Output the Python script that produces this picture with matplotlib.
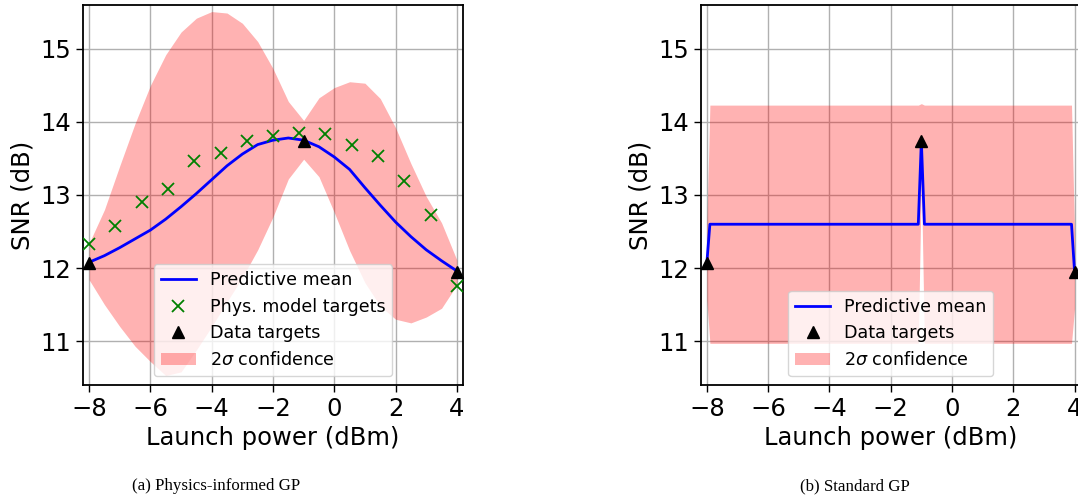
import matplotlib
matplotlib.use("Agg")
import matplotlib.pyplot as plt
import numpy as np

# --- (a) physics-informed GP ---
pi_x = [-8, -7.5, -7, -6.5, -6, -5.5, -5, -4.5, -4, -3.5, -3, -2.5, -2,
        -1.5, -1, -0.5, 0, 0.5, 1, 1.5, 2, 2.5, 3, 3.5, 4]
pi_mean = [12.08, 12.17, 12.28, 12.40, 12.52, 12.67, 12.84, 13.02, 13.21, 13.40,
           13.56, 13.69, 13.75, 13.78, 13.75, 13.66, 13.52, 13.35, 13.10, 12.86,
           12.63, 12.43, 12.25, 12.10, 11.96]
pi_upper = [12.34, 12.80, 13.40, 13.98, 14.50, 14.92, 15.23, 15.42, 15.51, 15.49,
            15.35, 15.10, 14.73, 14.28, 14.02, 14.33, 14.47, 14.55, 14.53, 14.32,
            13.92, 13.43, 12.98, 12.62, 12.11]
pi_lower = [11.84, 11.50, 11.20, 10.93, 10.72, 10.53, 10.58, 10.88, 11.20, 11.54,
            11.87, 12.25, 12.70, 13.22, 13.49, 13.25, 12.76, 12.24, 11.80, 11.48,
            11.30, 11.25, 11.33, 11.45, 11.77]

phys_x = [-8, -7.14, -6.29, -5.43, -4.57, -3.71, -2.86, -2, -1.14, -0.29,
          0.57, 1.43, 2.29, 3.14, 4]
phys_y = [12.33, 12.58, 12.90, 13.08, 13.46, 13.58, 13.74, 13.81, 13.85, 13.84,
          13.68, 13.54, 13.19, 12.73, 11.76]

data_x = [-8, -1, 4]
data_y = [12.07, 13.74, 11.95]

# --- (b) standard GP ---
std_x = [-8, -7.9, -1.1, -1, -0.9, 3.9, 4]
std_mean = [12.07, 12.6, 12.6, 13.74, 12.6, 12.6, 11.95]
std_upper = [12.57, 14.23, 14.23, 14.25, 14.23, 14.23, 12.45]
std_lower = [11.57, 10.97, 10.97, 13.24, 10.97, 10.97, 11.45]

W, H = 1078, 499
fig = plt.figure(figsize=(W / 100, H / 100), dpi=100)

ax_w = 380 / W
ax_h = 380 / H
ax_b = 1 - 385 / H
ax1 = fig.add_axes([83 / W, ax_b, ax_w, ax_h])
ax2 = fig.add_axes([700.7 / W, ax_b, ax_w, ax_h])


def style(ax):
    ax.set_xlim(-8.2, 4.2)
    ax.set_ylim(10.4, 15.6)
    ax.set_xticks([-8, -6, -4, -2, 0, 2, 4])
    ax.set_yticks([11, 12, 13, 14, 15])
    ax.grid(True, color="#b0b0b0", linewidth=1.0)
    ax.set_axisbelow(True)
    ax.tick_params(labelsize=17.5, length=5, width=1.0)
    for s in ax.spines.values():
        s.set_linewidth(1.3)
    ax.set_xlabel("Launch power (dBm)", fontsize=17.5)
    ax.set_ylabel("SNR (dB)", fontsize=17.5)


# left
ax1.plot(pi_x, pi_mean, color="blue", lw=2, label="Predictive mean", zorder=3)
ax1.plot(phys_x, phys_y, "x", color="green", ms=8, mew=1.3,
         label="Phys. model targets", zorder=4)
ax1.plot(data_x, data_y, "k^", ms=8.5, label="Data targets", zorder=5, clip_on=False)
ax1.fill_between(pi_x, pi_lower, pi_upper, color="red", alpha=0.3, lw=0,
                 label=r"2$\sigma$ confidence")
style(ax1)
ax1.legend(loc="lower center", fontsize=12.6)

# right
ax2.plot(std_x, std_mean, color="blue", lw=2, label="Predictive mean", zorder=3)
ax2.plot(data_x, data_y, "k^", ms=8.5, label="Data targets", zorder=5)
ax2.fill_between(std_x, std_lower, std_upper, color="red", alpha=0.3, lw=0,
                 label=r"2$\sigma$ confidence")
style(ax2)
ax2.legend(loc="lower center", fontsize=12.6)

fig.text(216 / W, 1 - 486 / H, "(a) Physics-informed GP", ha="center", va="center",
         family="Liberation Serif", fontsize=12.2)
fig.text(855 / W, 1 - 486 / H, "(b) Standard GP", ha="center", va="center",
         family="Liberation Serif", fontsize=12.2)

fig.savefig("out.png", dpi=100)
